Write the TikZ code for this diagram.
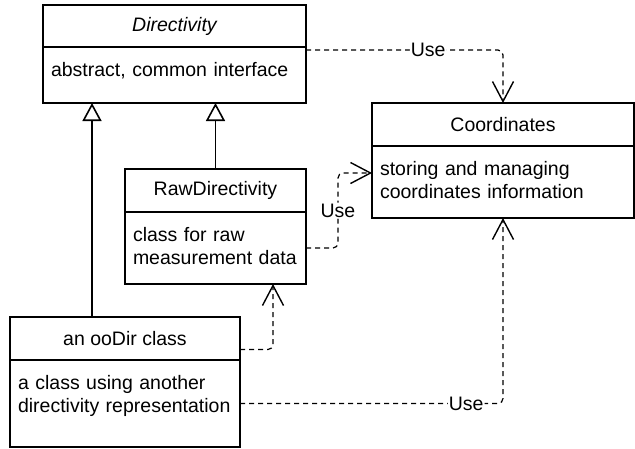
\documentclass[tikz,border=0pt]{standalone}
\usepackage{fontspec}
\setmainfont{Liberation Sans}
\usetikzlibrary{positioning,arrows.meta}

\begin{document}
\begin{tikzpicture}[x=1pt, y=-1pt, line width=1.6pt,
    font=\fontsize{19.5}{23}\selectfont,
    head/.style={draw, outer sep=0pt, inner sep=0pt},
    body/.style={draw, outer sep=0pt, inner xsep=8pt, inner ysep=0pt, text height=29pt, align=left},
    inherit/.style={-{Triangle[open, length=18pt, width=19pt]}},
    use/.style={line width=1.2pt, dash pattern=on 5pt off 4pt, rounded corners=5pt,
                -{Straight Barb[length=20pt, width=21pt, line width=1.4pt]}},
    uselabel/.style={fill=white, inner sep=1pt}]
  \useasboundingbox (0,0) rectangle (635,448);

  \node[head, minimum width=263pt, minimum height=42pt] (dirhead) at (174.5,26) {\itshape Directivity};
  \node[body, text width=247pt, text depth=27pt] (dirbody) [below=0pt of dirhead] {abstract, common interface};

  \node[head, minimum width=181pt, minimum height=43pt] (rawhead) at (215.5,190.5) {RawDirectivity};
  \node[body, text width=165pt, text depth=43pt] (rawbody) [below=0pt of rawhead] {class for raw\\measurement data};

  \node[head, minimum width=262pt, minimum height=43pt] (coordhead) at (503,124.5) {Coordinates};
  \node[body, text width=246pt, text depth=43pt] (coordbody) [below=0pt of coordhead] {storing and managing\\coordinates information};

  \node[head, minimum width=230pt, minimum height=43pt] (oohead) at (125,338.5) {an ooDir class};
  \node[body, text width=214pt, text depth=58pt] (oobody) [below=0pt of oohead] {a class using another\\directivity representation};

  \coordinate (ooup) at ([xshift=82pt]oohead.north west);
  \draw[inherit] (ooup) -- (ooup |- dirbody.south);
  \draw[inherit] (rawhead.north) -- (rawhead.north |- dirbody.south);

  \draw[use] ([yshift=-3pt]dirbody.north east) -| node[uselabel, pos=0.31] {Use} (coordhead.north);
  \draw[use] (rawbody.east) -- ++(32,0) |- node[uselabel, pos=0.25] {Use} ([yshift=9pt]coordbody.west);
  \draw[use] ([yshift=-11pt]oohead.east) -| ([xshift=57.5pt]rawbody.south);
  \draw[use] (oobody.east) -| node[uselabel, pos=0.43] {Use} (coordbody.south);
\end{tikzpicture}
\end{document}
